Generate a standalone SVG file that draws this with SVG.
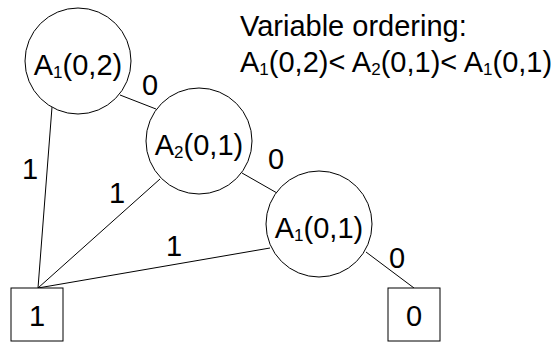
<svg xmlns="http://www.w3.org/2000/svg" width="560" height="344" viewBox="0 0 560 344">
<style>
text{font-family:"Liberation Sans",Arial,sans-serif;font-size:29px;fill:#000}
.sub{font-size:17px}
.node{fill:#fff;stroke:#000;stroke-width:1}
.edge{stroke:#000;stroke-width:1;fill:none}
.c{text-anchor:middle}
</style>
<rect width="560" height="344" fill="#fff"/>
<g id="connectors">
<line class="edge" x1="52" y1="107" x2="38" y2="288"/>
<line class="edge" x1="160" y1="179" x2="38" y2="288"/>
<line class="edge" x1="270" y1="248" x2="38" y2="288"/>
<line class="edge" x1="120" y1="95" x2="156" y2="109"/>
<line class="edge" x1="242" y1="173" x2="277" y2="193"/>
<line class="edge" x1="366" y1="252" x2="414" y2="288"/>
<text class="c" x="150" y="95">0</text>
<text class="c" x="276" y="169">0</text>
<text class="c" x="397" y="268">0</text>
<text class="c" x="30" y="179">1</text>
<text class="c" x="117" y="203">1</text>
<text class="c" x="174" y="256">1</text>
</g>
<g id="n1">
<circle class="node" cx="78" cy="61" r="53"/>
<text class="c" x="78" y="75">A<tspan class="sub" dy="3">1</tspan><tspan dy="-3">(0,2)</tspan></text>
</g>
<g id="n2">
<circle class="node" cx="199" cy="141" r="53"/>
<text class="c" x="199" y="155">A<tspan class="sub" dy="3">2</tspan><tspan dy="-3">(0,1)</tspan></text>
</g>
<g id="n3">
<circle class="node" cx="319" cy="224" r="53"/>
<text class="c" x="319" y="238">A<tspan class="sub" dy="3">1</tspan><tspan dy="-3">(0,1)</tspan></text>
</g>
<g id="t1">
<rect class="node" x="11" y="288" width="52" height="53"/>
<text class="c" x="37" y="326">1</text>
</g>
<g id="t0">
<rect class="node" x="388" y="288" width="52" height="53"/>
<text class="c" x="414" y="326">0</text>
</g>
<g id="legend">
<text x="240" y="36">Variable ordering:</text>
<text x="240" y="72">A<tspan class="sub" dy="3">1</tspan><tspan dy="-3">(0,2)&lt; A</tspan><tspan class="sub" dy="3">2</tspan><tspan dy="-3">(0,1)&lt; A</tspan><tspan class="sub" dy="3">1</tspan><tspan dy="-3">(0,1)</tspan></text>
</g>
</svg>
